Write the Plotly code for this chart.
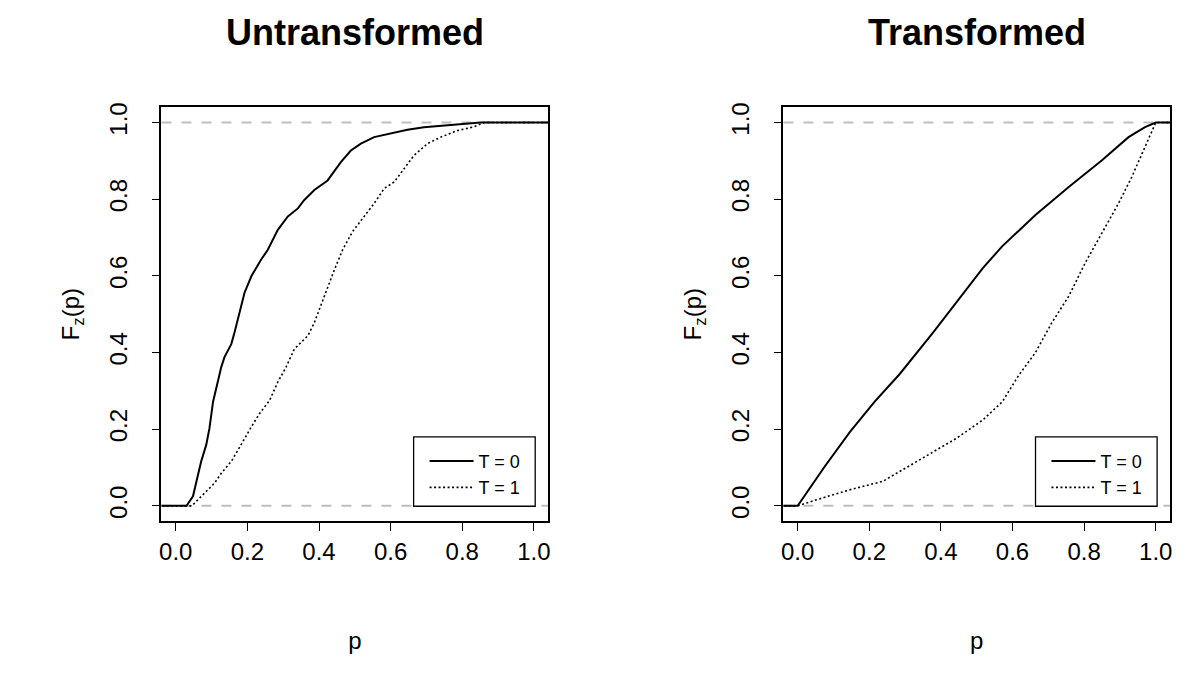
import plotly.graph_objects as go

# ---------------- data ----------------
# Untransformed panel
untr_p_t0 = [-0.05, 0.03, 0.048, 0.053, 0.071, 0.085, 0.094, 0.104, 0.113, 0.127, 0.136,
             0.155, 0.164, 0.175, 0.192, 0.211, 0.238, 0.257, 0.285, 0.313, 0.341,
             0.359, 0.387, 0.424, 0.461, 0.489, 0.517, 0.554, 0.601, 0.647, 0.693,
             0.740, 0.795, 0.851, 1.05]
untr_F_t0 = [0.0, 0.0, 0.025, 0.046, 0.116, 0.159, 0.202, 0.271, 0.310, 0.362, 0.388,
             0.422, 0.452, 0.496, 0.556, 0.599, 0.642, 0.668, 0.720, 0.755, 0.776,
             0.798, 0.824, 0.849, 0.897, 0.927, 0.945, 0.962, 0.972, 0.981, 0.988,
             0.992, 0.996, 1.0, 1.0]
untr_p_t1 = [-0.05, 0.045, 0.062, 0.080, 0.108, 0.127, 0.155, 0.174, 0.192, 0.211, 0.234,
             0.262, 0.285, 0.308, 0.331, 0.345, 0.369, 0.387, 0.401, 0.424, 0.443,
             0.466, 0.494, 0.526, 0.554, 0.582, 0.610, 0.638, 0.665, 0.703, 0.740,
             0.786, 0.833, 0.860, 1.05]
untr_F_t1 = [0.0, 0.0, 0.016, 0.033, 0.059, 0.085, 0.116, 0.146, 0.176, 0.206, 0.241,
             0.275, 0.323, 0.362, 0.409, 0.422, 0.444, 0.478, 0.513, 0.565, 0.616,
             0.668, 0.716, 0.755, 0.789, 0.828, 0.845, 0.880, 0.914, 0.945, 0.962,
             0.979, 0.989, 1.0, 1.0]

# Transformed panel
tr_p_t0 = [-0.05, 0.0, 0.075, 0.146, 0.215, 0.285, 0.378, 0.443, 0.517, 0.571, 0.664, 0.757,
           0.849, 0.924, 0.970, 1.0, 1.05]
tr_F_t0 = [0.0, 0.0, 0.102, 0.193, 0.272, 0.344, 0.452, 0.530, 0.620, 0.677, 0.759, 0.832,
           0.901, 0.962, 0.988, 1.0, 1.0]
tr_p_t1 = [-0.05, 0.0, 0.053, 0.146, 0.238, 0.285, 0.378, 0.443, 0.517, 0.571, 0.617,
           0.664, 0.710, 0.757, 0.803, 0.849, 0.896, 0.933, 0.970, 1.0, 1.05]
tr_F_t1 = [0.0, 0.0, 0.016, 0.042, 0.064, 0.090, 0.141, 0.176, 0.224, 0.271, 0.340,
           0.400, 0.478, 0.547, 0.634, 0.711, 0.789, 0.858, 0.936, 1.0, 1.0]

panel_titles = ["Untransformed", "Transformed"]
legend_names = ["T = 0", "T = 1"]
tick_vals = [0.0, 0.2, 0.4, 0.6, 0.8, 1.0]
tick_text = ["0.0", "0.2", "0.4", "0.6", "0.8", "1.0"]

# ---------------- figure ----------------
W, H = 1191, 677
FONT = "Liberation Sans, Arial, sans-serif"

fig = go.Figure()

panels = [
    (untr_p_t0, untr_F_t0, untr_p_t1, untr_F_t1, "x", "y", "legend"),
    (tr_p_t0, tr_F_t0, tr_p_t1, tr_F_t1, "x2", "y2", "legend2"),
]
for p0, f0, p1, f1, xa, ya, lg in panels:
    fig.add_trace(go.Scatter(x=p0, y=f0, mode="lines", name=legend_names[0],
                             line=dict(color="black", width=2),
                             xaxis=xa, yaxis=ya, legend=lg))
    fig.add_trace(go.Scatter(x=p1, y=f1, mode="lines", name=legend_names[1],
                             line=dict(color="black", width=1.6, dash="2px,2.5px"),
                             xaxis=xa, yaxis=ya, legend=lg))

# box positions in pixels
boxes = [(160, 548), (784, 1172)]
ytop, ybot = 103, 520

axis_common = dict(
    range=[-0.04, 1.04], tickvals=tick_vals, ticktext=tick_text,
    showline=True, linecolor="black", linewidth=1.5, mirror=True,
    ticks="outside", ticklen=8, tickwidth=1.2, tickcolor="black",
    showgrid=False, zeroline=False,
    tickfont=dict(family=FONT, size=24, color="black"),
)

for i, (x0, x1) in enumerate(boxes):
    sx = "" if i == 0 else "2"
    fig.layout["xaxis" + sx] = dict(
        axis_common, domain=[x0 / W, x1 / W], anchor="y" + sx,
        ticklabelstandoff=0,
        title=dict(text="p", font=dict(family=FONT, size=24, color="black"), standoff=68),
    )
    fig.layout["yaxis" + sx] = dict(
        axis_common, domain=[(H - ybot) / H, (H - ytop) / H], anchor="x" + sx,
        tickangle=-90, ticklabelstandoff=15,
        title=dict(text="F<sub>z</sub>(p)", font=dict(family=FONT, size=24, color="black"),
                   standoff=19),
    )
    # dashed grey reference lines at 0 and 1
    for yv in (0, 1):
        fig.add_shape(type="line", xref=("x" + sx) + " domain", yref="y" + sx,
                      x0=0, x1=1, y0=yv, y1=yv,
                      line=dict(color="#BEBEBE", width=2, dash="10px,10px"), layer="below")
    # legend frame
    lx0 = x0 + 253
    fig.add_shape(type="rect", xref="paper", yref="paper",
                  x0=lx0 / W, x1=(lx0 + 122) / W, y0=(H - 505) / H, y1=(H - 435) / H,
                  line=dict(color="black", width=1.3), fillcolor="white", layer="above")
    # panel title
    fig.add_annotation(text="<b>" + panel_titles[i] + "</b>", xref="paper", yref="paper",
                       x=(x0 + x1) / 2 / W, y=(H - 28) / H, xanchor="center", yanchor="middle",
                       showarrow=False, font=dict(family=FONT, size=36, color="black"))

leg_common = dict(
    bgcolor="rgba(0,0,0,0)", borderwidth=0,
    font=dict(family=FONT, size=18, color="black"),
    xanchor="left", yanchor="top", tracegroupgap=0, itemwidth=44,
)
fig.update_layout(
    width=W, height=H,
    margin=dict(l=0, r=0, t=0, b=0),
    paper_bgcolor="white", plot_bgcolor="white",
    showlegend=True,
    legend=dict(leg_common, x=(160 + 264) / W, y=(H - 441) / H),
    legend2=dict(leg_common, x=(784 + 264) / W, y=(H - 441) / H),
    font=dict(family=FONT, color="black"),
)

fig.write_html("out.html", config={"displayModeBar": False},
               post_script="document.body.style.margin='0px';")
